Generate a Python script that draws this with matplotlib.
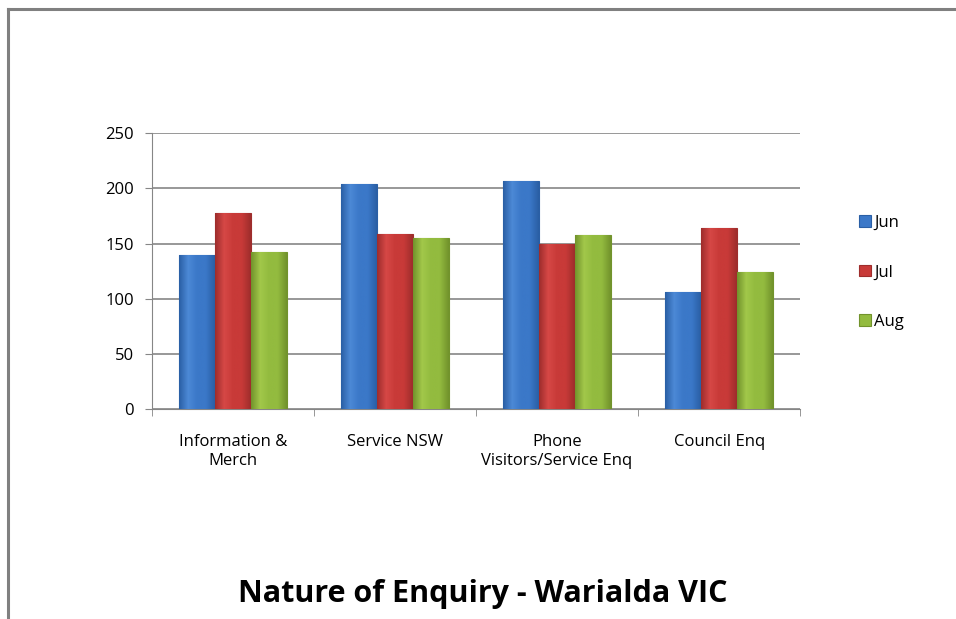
import numpy as np
import matplotlib.pyplot as plt
from matplotlib.lines import Line2D
from matplotlib.colors import LinearSegmentedColormap

categories = ["Information &\nMerch", "Service NSW", "Phone\nVisitors/Service Enq", "Council Enq"]
months = ["Jun", "Jul", "Aug"]
jun = [140, 204, 207, 106]
jul = [178, 159, 150, 164]
aug = [142, 155, 158, 124]

colors = ["#3B78C8", "#C83A38", "#93BB3F"]
dark = ["#2A5FA5", "#9E2D2C", "#72932C"]
light = ["#4C89D6", "#D64846", "#A2C84A"]

plt.rcParams['font.family'] = ['Open Sans', 'DejaVu Sans']

fig = plt.figure(figsize=(9.56, 6.19), dpi=100)
ax = fig.add_axes([0.159, 0.339, 0.678, 0.446])

ind = np.arange(len(categories))
width = 0.222

for i, (vals, c, d, l) in enumerate(zip([jun, jul, aug], colors, dark, light)):
    rects = ax.bar(ind + (i - 1) * width, vals, width, color=c, edgecolor=d,
                   linewidth=0.8, label=months[i], zorder=3)
    cmap = LinearSegmentedColormap.from_list("g", [d, l, c, c, d])
    grad = np.linspace(0, 1, 64).reshape(1, -1)
    for r in rects:
        x0, w, h = r.get_x(), r.get_width(), r.get_height()
        im = ax.imshow(grad, cmap=cmap, aspect='auto', zorder=3.5,
                       extent=[x0, x0 + w, 0, h])
        im.set_clip_path(r)

ax.set_xlim(-0.5, 3.5)
ax.set_ylim(0, 250)
ax.set_yticks([0, 50, 100, 150, 200, 250])
ax.yaxis.grid(True, color='#868686', linewidth=1.2, zorder=0)
ax.set_xticks(ind)
ax.set_xticklabels(categories, fontsize=12)
ax.set_xticks(np.arange(-0.5, 4, 1), minor=True)
ax.tick_params(axis='x', which='major', length=0, pad=18)
ax.tick_params(axis='x', which='minor', length=5, color='#868686')
ax.tick_params(axis='y', length=5, color='#868686', labelsize=12, pad=8)
for s in ['top', 'right']:
    ax.spines[s].set_visible(False)
ax.spines['left'].set_color('#868686')
ax.spines['bottom'].set_color('#868686')

leg = fig.legend(loc='center left', bbox_to_anchor=(0.883, 0.56), frameon=False,
                 fontsize=12, labelspacing=2.0, handlelength=0.7, handleheight=0.7,
                 handletextpad=0.2)

fig.text(0.505, 0.04, "Nature of Enquiry - Warialda VIC", ha='center', va='center',
         fontsize=22, fontweight='bold')

# chart border (top and left edges)
fig.add_artist(Line2D([8 / 956, 1], [1 - 9 / 619, 1 - 9 / 619], color='#808080', linewidth=2.2))
fig.add_artist(Line2D([8 / 956, 8 / 956], [0, 1 - 9 / 619], color='#808080', linewidth=2.2))

fig.savefig("out.png", dpi=100)
